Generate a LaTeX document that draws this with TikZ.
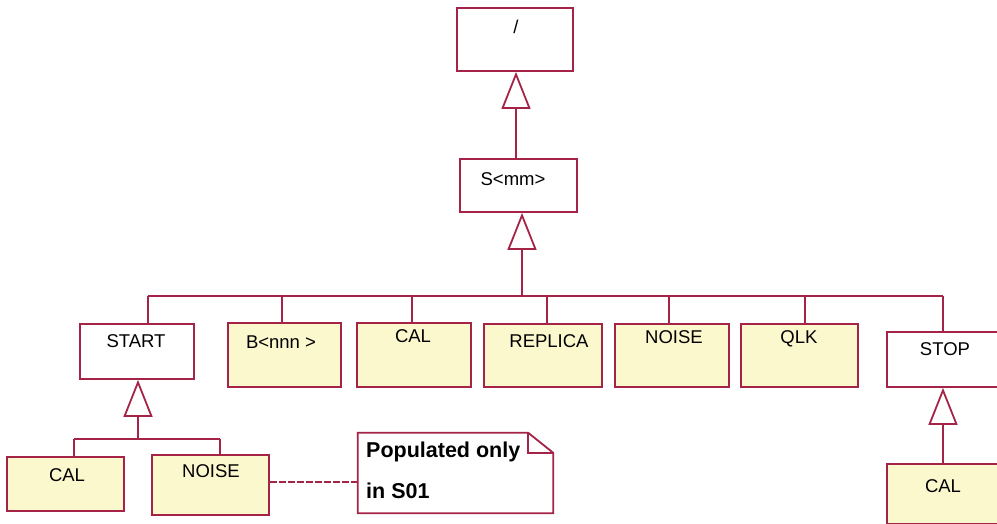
\documentclass[tikz,border=0pt]{standalone}
\usepackage{fontspec}
\setmainfont{Liberation Sans}
\usetikzlibrary{arrows.meta}
\definecolor{umlred}{RGB}{165,35,70}
\definecolor{umlyel}{RGB}{252,248,206}
\begin{document}
\begin{tikzpicture}[x=1pt,y=-1pt,
  box/.style={draw=umlred, line width=1.8pt, rectangle, inner sep=0pt},
  wbox/.style={box, fill=white},
  ybox/.style={box, fill=umlyel},
  lbl/.style={inner sep=0pt, font=\fontsize{18.5}{20}\selectfont, text=black},
  notetext/.style={inner sep=0pt, anchor=west, font=\fontsize{21.5}{23}\selectfont\bfseries, text=black},
  conn/.style={draw=umlred, line width=1.8pt},
  inh/.style={conn, -{Triangle[open, length=37pt, width=29pt, fill=white]}}]
\clip (0,0) rectangle (997,523);
\fill[white] (0,0) rectangle (997,523);

% boxes
\node[wbox, minimum width=116pt, minimum height=63pt] (root) at (515,39.5) {};
\node[wbox, minimum width=117pt, minimum height=53pt] (smm) at (518.5,185.5) {};
\node[wbox, minimum width=114pt, minimum height=55pt] (start) at (137,351.5) {};
\node[ybox, minimum width=113pt, minimum height=64pt] (bnnn) at (284.5,355) {};
\node[ybox, minimum width=114pt, minimum height=64pt] (cal1) at (414,355) {};
\node[ybox, minimum width=118pt, minimum height=63pt] (replica) at (543,355.5) {};
\node[ybox, minimum width=114pt, minimum height=63pt] (noise1) at (672,355.5) {};
\node[ybox, minimum width=117pt, minimum height=63pt] (qlk) at (799.5,355.5) {};
\node[wbox, minimum width=112pt, minimum height=55pt] (stop) at (943,359.5) {};
\node[ybox, minimum width=112pt, minimum height=60pt] (cal3) at (943,494) {};
\node[ybox, minimum width=117pt, minimum height=54pt] (cal2) at (65.5,484) {};
\node[ybox, minimum width=117pt, minimum height=60pt] (noise2) at (210.5,485) {};

% labels
\node[lbl] (tRoot) at (516,27) {/};
\node[lbl] (tSmm) at (513,179) {S<mm>};
\node[lbl] (tStart) at (136,341) {START};
\node[lbl] (tBnnn) at (281,342) {B<nnn >};
\node[lbl] (tCal1) at (413,336) {CAL};
\node[lbl] (tReplica) at (549,341) {REPLICA};
\node[lbl] (tNoise1) at (674,337) {NOISE};
\node[lbl] (tQlk) at (799,339) {QLK};
\node[lbl] (tStop) at (945,349) {STOP};
\node[lbl] (tCal3) at (943,486) {CAL};
\node[lbl] (tCal2) at (67,475) {CAL};
\node[lbl] (tNoise2) at (211,471) {NOISE};

% note
\node[inner sep=0pt, minimum width=195pt, minimum height=80pt] (note) at (455.5,473) {};
\draw[conn, fill=white, line join=miter] (note.south west) -- (note.north west) -- ([xshift=-25pt]note.north east)
  -- ([yshift=-20pt]note.north east) -- (note.south east) -- cycle;
\draw[conn] ([xshift=-25pt]note.north east) -- ([xshift=-25pt,yshift=-20pt]note.north east) -- ([yshift=-20pt]note.north east);
\node[notetext] (tNote1) at (366,452) {Populated only};
\node[notetext] (tNote2) at (366,491) {in S01};

% inheritance: S<mm> -> /
\draw[inh] (smm.north -| 516,0) -- (root.south -| 516,0);

% bus
\coordinate (trunk) at (522,296);
\coordinate (dStart) at (148,296);
\coordinate (dBnnn) at (282,296);
\coordinate (dCal1) at (412,296);
\coordinate (dReplica) at (547,296);
\coordinate (dNoise1) at (669,296);
\coordinate (dQlk) at (805,296);
\coordinate (dStop) at (943,296);
\draw[conn] (dStart) -- (dStop);
\draw[inh] (trunk) -- (trunk |- smm.south);
\draw[conn] (dStart) -- (dStart |- start.north);
\draw[conn] (dBnnn) -- (dBnnn |- bnnn.north);
\draw[conn] (dCal1) -- (dCal1 |- cal1.north);
\draw[conn] (dReplica) -- (dReplica |- replica.north);
\draw[conn] (dNoise1) -- (dNoise1 |- noise1.north);
\draw[conn] (dQlk) -- (dQlk |- qlk.north);
\draw[conn] (dStop) -- (stop.north);

% START subtree
\coordinate (sub) at (138,439);
\coordinate (subL) at (74,439);
\coordinate (subR) at (220,439);
\draw[conn] (subL) -- (subR);
\draw[conn] (subL) -- (subL |- cal2.north);
\draw[conn] (subR) -- (subR |- noise2.north);
\draw[inh] (sub) -- (sub |- start.south);

% STOP subtree
\draw[inh] (cal3.north) -- (stop.south);

% note link
\draw[conn, line width=1.4pt, dash pattern=on 7pt off 2pt] (noise2.east |- 0,482) -- (note.west |- 0,482);
\end{tikzpicture}
\end{document}
